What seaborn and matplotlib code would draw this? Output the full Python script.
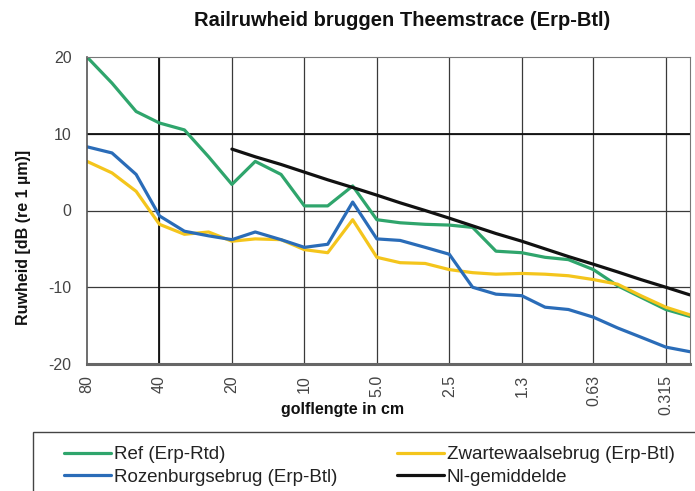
import numpy as np
import pandas as pd
import matplotlib
matplotlib.use("Agg")
import matplotlib.pyplot as plt
from matplotlib.patches import Rectangle
import seaborn as sns

# Third-octave wavelength bands (cm), from long to short
wavelength = [80, 63, 50, 40, 31.5, 25, 20, 16, 12.5, 10, 8, 6.3, 5,
              4, 3.15, 2.5, 2, 1.6, 1.25, 1, 0.8, 0.63, 0.5, 0.4, 0.315, 0.25]

ref_erp_rtd = [20.0, 16.6, 12.9, 11.4, 10.5, 7.0, 3.4, 6.4, 4.7, 0.6, 0.6, 3.2, -1.2,
               -1.6, -1.8, -1.9, -2.2, -5.3, -5.5, -6.1, -6.4, -7.7, -9.8, -11.3, -12.9, -13.8]
zwartewaal = [6.4, 4.9, 2.5, -1.8, -3.1, -2.8, -4.0, -3.7, -3.8, -5.1, -5.5, -1.2, -6.1,
              -6.8, -6.9, -7.7, -8.1, -8.3, -8.2, -8.3, -8.5, -9.0, -9.6, -11.1, -12.6, -13.6]
rozenburg = [8.3, 7.5, 4.7, -0.7, -2.7, -3.3, -3.8, -2.8, -3.8, -4.8, -4.4, 1.1, -3.7,
             -3.9, -4.8, -5.7, -10.0, -10.9, -11.1, -12.6, -12.9, -13.9, -15.3, -16.5, -17.8, -18.4]
# Dutch average, defined from 20 cm downwards
nl_wavelength = wavelength[6:]
nl_gemiddelde = [8.0, 7.0, 6.0, 5.0, 4.0, 3.0, 2.0, 1.0, 0.0, -1.0, -2.0, -3.0, -4.0,
                 -5.0, -6.0, -7.0, -8.0, -9.0, -10.0, -11.0]

series_names = ["Ref (Erp-Rtd)", "Zwartewaalsebrug (Erp-Btl)",
                "Rozenburgsebrug (Erp-Btl)", "Nl-gemiddelde"]
series_colors = ["#2fa56c", "#f4c51c", "#2a6cb8", "#111111"]

tick_pos = [80, 40, 20, 10, 5, 2.5, 1.25, 0.63, 0.315]
tick_labels = ["80", "40", "20", "10", "5.0", "2.5", "1.3", "0.63", "0.315"]

frames = [
    pd.DataFrame({"golflengte": wavelength, "ruwheid": ref_erp_rtd, "serie": series_names[0]}),
    pd.DataFrame({"golflengte": wavelength, "ruwheid": zwartewaal, "serie": series_names[1]}),
    pd.DataFrame({"golflengte": wavelength, "ruwheid": rozenburg, "serie": series_names[2]}),
    pd.DataFrame({"golflengte": nl_wavelength, "ruwheid": nl_gemiddelde, "serie": series_names[3]}),
]
data = pd.concat(frames, ignore_index=True)

sns.set_style("white")
plt.rcParams["font.family"] = ["Liberation Sans", "DejaVu Sans"]
plt.rcParams["axes.unicode_minus"] = False

W, H = 695, 491
fig = plt.figure(figsize=(W / 100, H / 100), dpi=100)
ax = fig.add_axes([87 / W, 1 - 364 / H, (690 - 87) / W, (364 - 57) / H])

sns.lineplot(data=data, x="golflengte", y="ruwheid", hue="serie",
             hue_order=series_names, palette=series_colors,
             linewidth=2.3, ax=ax, legend=False, sort=False)

ax.set_xscale("log")
ax.set_xlim(80, 0.25)
ax.set_ylim(-20, 20)
ax.set_xticks(tick_pos)
ax.set_xticklabels(tick_labels, rotation=90)
ax.minorticks_off()
ax.set_yticks([-20, -10, 0, 10, 20])

grid_color = "#3a3a3a"
for x in tick_pos[1:]:
    ax.axvline(x, color=grid_color, lw=0.9, zorder=0)
for y in [-10, 0, 10]:
    ax.axhline(y, color=grid_color, lw=0.9, zorder=0)
ax.axvline(40, color="#111111", lw=1.3, zorder=0)
ax.axhline(10, color="#111111", lw=1.3, zorder=0)

for side in ["top", "right"]:
    ax.spines[side].set_color("#777777")
    ax.spines[side].set_linewidth(0.8)
ax.spines["left"].set_color("#555555")
ax.spines["left"].set_linewidth(1.2)
ax.spines["bottom"].set_color("#666666")
ax.spines["bottom"].set_linewidth(2.2)

ax.tick_params(axis="both", direction="out", length=5, width=0.9, color="#555555",
               labelcolor="#444444", labelsize=11.5)
ax.tick_params(axis="y", pad=6)
ax.tick_params(axis="x", pad=3)

ax.set_xlabel("golflengte in cm", fontsize=11.5, fontweight="bold", color="#111111")
ax.xaxis.set_label_coords((343 - 87) / 603, (364 - 402) / 307)
ax.set_ylabel("Ruwheid [dB (re 1 µm)]", fontsize=11.5, fontweight="bold", color="#111111")
ax.yaxis.set_label_coords((31 - 87) / 603, (364 - 237) / 307)
fig.suptitle("Railruwheid bruggen Theemstrace (Erp-Btl)", x=402 / W, y=1 - 11 / H,
             fontsize=14.5, fontweight="bold", color="#111111", va="top")

handles = [plt.Line2D([], [], color=c, lw=2.3) for c in series_colors]
order = [0, 2, 1, 3]
leg = fig.legend([handles[i] for i in order], [series_names[i] for i in order],
                 loc="upper left", bbox_to_anchor=(64 / W, 1 - 446 / H),
                 ncol=2, fontsize=13.5, frameon=False,
                 handlelength=2.5, handletextpad=0.15, borderpad=0,
                 columnspacing=3.2, labelspacing=0.3, borderaxespad=0)
for t in leg.get_texts():
    t.set_color("#222222")

# Legend box, running past the right and bottom edges of the figure
fig.patches.append(Rectangle((33 / W, -0.2), 1.0, 0.2 + 1 - 432 / H,
                             transform=fig.transFigure, fill=False,
                             edgecolor="#444444", linewidth=1.0))

fig.savefig("out.png", dpi=100)
